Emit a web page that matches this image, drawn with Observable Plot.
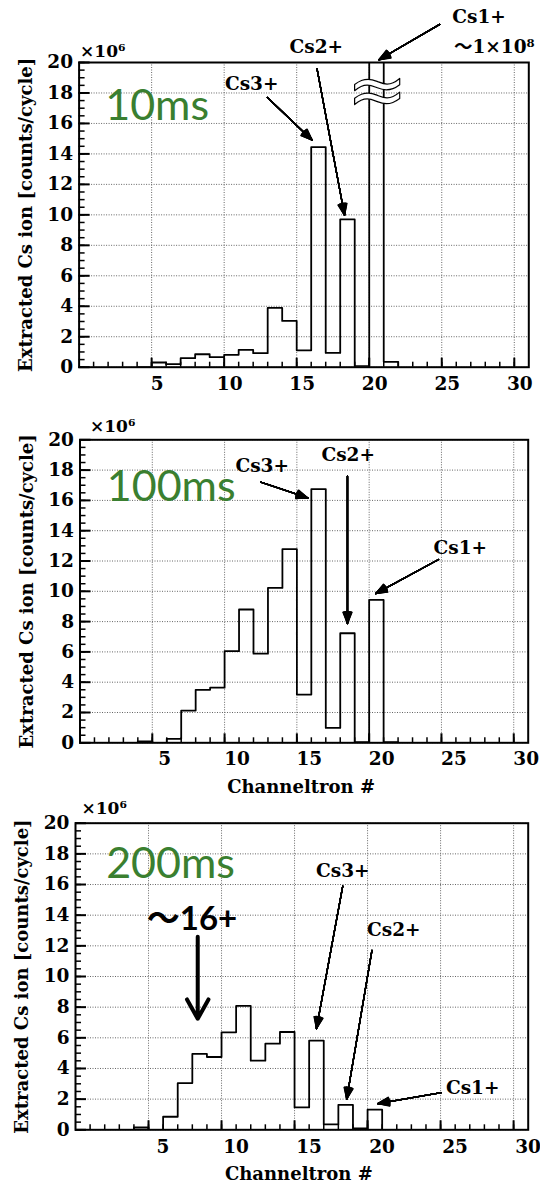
<!DOCTYPE html>
<html><head><meta charset="utf-8">
<script src="https://cdn.jsdelivr.net/npm/d3@7"></script>
<script src="https://cdn.jsdelivr.net/npm/@observablehq/plot@0.6"></script>
<style>
body{margin:0;background:#fff;width:540px;height:1185px;overflow:hidden}
svg{display:block}
</style>
</head><body><div id="c"></div>
<script>
// ---- data (values in units of 10^6 counts/cycle) ----
const binEdges = [4,5,6,7,8,9,10,11,12,13,14,15,16,17,18,19,20,21,22];
const counts10ms  = [0, 0.31, 0.20, 0.59, 0.85, 0.66, 0.81, 1.14, 0.92, 3.89, 3.04, 1.11, 14.45, 0.94, 9.70, 0.07, 100, 0.35];
const counts100ms = [0.10, 0, 0.26, 2.13, 3.50, 3.64, 6.05, 8.80, 5.88, 10.22, 12.78, 3.18, 16.75, 0.98, 7.23, 0.05, 9.43, 0.05];
const counts200ms = [0.15, 0, 0.85, 3.05, 4.95, 4.75, 6.36, 8.08, 4.51, 5.62, 6.38, 1.46, 5.82, 0.35, 1.63, 0.09, 1.31, 0];
const xTickLabels = [5,10,15,20,25,30];
const yTickLabels = [0,2,4,6,8,10,12,14,16,18,20];
const timeLabels = ["10ms","100ms","200ms"];

// annotations (data units)
const ionLabels10  = [{text:"Cs3+",x:11.9,y:18.6},{text:"Cs2+",x:16.35,y:21.0},{text:"Cs1+",x:27.57,y:22.95}];
const ionArrows10  = [{x1:12.98,y1:17.7,x2:16.07,y2:14.9},{x1:16.4,y1:19.6,x2:18.3,y2:9.97},{x1:24.86,y1:22.5,x2:20.67,y2:20.18}];
const ionLabels100 = [{text:"Cs3+",x:12.6,y:18.25},{text:"Cs2+",x:18.55,y:19.0},{text:"Cs1+",x:26.3,y:12.87}];
const ionArrows100 = [{x1:12.5,y1:17.2,x2:15.76,y2:16.16},{x1:18.5,y1:17.6,x2:18.5,y2:7.87},{x1:24.8,y1:12.1,x2:20.45,y2:9.85}];
const ionLabels200 = [{text:"Cs3+",x:18.3,y:16.9},{text:"Cs2+",x:21.8,y:13.0},{text:"Cs1+",x:27.2,y:2.75}];
const ionArrows200 = [{x1:18.3,y1:15.9,x2:16.5,y2:6.6},{x1:20.3,y1:11.7,x2:18.57,y2:2.0},{x1:25.05,y1:2.43,x2:20.7,y2:1.71}];
const timePos = [{x:1.8,y:16.2},{x:1.85,y:15.93},{x:2.1,y:16.44}];
const overflowNote = [{text:"～1×10⁸", x:25.84, y:21.0}];
const breakMark = [{x:20.55, y:18.1}];
const chargeNote = [{text:"～16+", x:4.88, y:13.06}];
const chargeArrow = [{x1:8.37, y1:12.6, x2:8.37, y2:7.24}];

const SERIF = "'DejaVu Serif','Liberation Serif','Noto Sans CJK JP',serif";
const xMinor = d3.range(1, 31, 1);
const yMinor = d3.range(0, 20.01, 0.5);

function steps(values) {
  const pts = [{x: binEdges[0], y: 0}];
  values.forEach((v, i) => { pts.push({x: binEdges[i], y: v}); pts.push({x: binEdges[i+1], y: v}); });
  pts.push({x: binEdges[binEdges.length-1], y: 0});
  return pts;
}

function filledArrows(data) {
  const marks = [Plot.link(data, {x1:"x1", y1:"y1", x2:"x2", y2:"y2", stroke:"black", strokeWidth:1.3})];
  for (const a of [4,8,12,16,20,24,28,32,36,40,44]) {
    marks.push(Plot.arrow(data, {x1:"x1", y1:"y1", x2:"x2", y2:"y2", stroke:"black", strokeWidth:1.3, headAngle:a, headLength:14}));
  }
  return marks;
}

function panel(cfg) {
  const marks = [
    Plot.gridY(yTickLabels, {stroke:"#666", strokeOpacity:1, strokeWidth:1, strokeDasharray:"1,1.5"}),
    Plot.gridX(xTickLabels, {stroke:"#666", strokeOpacity:1, strokeWidth:1, strokeDasharray:"1,1.5"}),
    Plot.axisY(yMinor, {tickSize:-6, fill:"none", strokeWidth:1.5, label:null}),
    Plot.axisY(yTickLabels, {tickSize:-11, fill:"none", strokeWidth:2, label:null}),
    Plot.axisX(xMinor, {tickSize:-5, fill:"none", strokeWidth:1.5, label:null}),
    Plot.axisX(xTickLabels, {tickSize:-9, fill:"none", strokeWidth:2, label:null}),
    Plot.text(yTickLabels, {y:d=>d, text:d=>String(d), frameAnchor:"left", dx:-6, textAnchor:"end", lineAnchor:"middle", fontSize:18.5, fontWeight:"bold", fontFamily:SERIF, fill:"black"}),
    Plot.text(xTickLabels, {x:d=>d, text:d=>String(d), frameAnchor:"bottom", dy:cfg.xPad, dx:cfg.xdx, textAnchor:"middle", lineAnchor:"top", fontSize:18.5, fontWeight:"bold", fontFamily:SERIF, fill:"black"}),
    Plot.line(steps(cfg.values), {x:"x", y:"y", stroke:"black", strokeWidth:1.8, clip:true}),
    Plot.frame({stroke:"black", strokeWidth:2}),
    Plot.text(["Extracted Cs ion [counts/cycle]"], {frameAnchor:"left", dx:-53, rotate:-90, fontSize:18, fontWeight:"bold", fontFamily:SERIF, textAnchor:"middle", lineAnchor:"middle", fill:"black"}),
    Plot.text(["×10⁶"], {frameAnchor:"top-left", dx:cfg.expDx, dy:-cfg.expDy, textAnchor:"start", lineAnchor:"bottom", fontSize:17, fontWeight:"bold", fontFamily:SERIF, fill:"black"}),
    Plot.text([cfg.time], {x:d=>cfg.timePos.x, y:d=>cfg.timePos.y, text:d=>d, textAnchor:"start", lineAnchor:"bottom", fontSize:43, fontFamily:"Lato, 'Open Sans', sans-serif", fill:"#3a7f30"}),
    Plot.text(cfg.labels, {x:"x", y:"y", text:"text", fontSize:18.5, fontWeight:"bold", fontFamily:SERIF, lineAnchor:"middle", fill:"black"}),
    ...filledArrows(cfg.arrows)
  ];
  if (cfg.xTitle) marks.push(Plot.text(["Channeltron #"], {frameAnchor:"bottom", dy:44, dx:-3, lineAnchor:"middle", fontSize:18, fontWeight:"bold", fontFamily:SERIF, fill:"black"}));
  if (cfg.extra) marks.push(...cfg.extra);
  return Plot.plot({
    width: 540, height: cfg.height,
    marginLeft: cfg.ml, marginRight: cfg.mr, marginTop: cfg.mt, marginBottom: cfg.mb,
    x: {domain:[0,31]}, y: {domain:[0,20]},
    style: {background:"white", overflow:"visible"},
    marks
  });
}

const c = document.getElementById("c");
c.appendChild(panel({
  values: counts10ms, height: 400, ml: 78.6, mr: 11.7, mt: 62, mb: 33.3,
  xPad: 10, xdx: 5.5, expDx: 1, expDy: 5.6, time: timeLabels[0], timePos: timePos[0],
  labels: ionLabels10, arrows: ionArrows10, xTitle: false,
  extra: [
    Plot.text(breakMark, {x:"x", y:"y", text:d=>"≈", fontSize:72, fontFamily:"'DejaVu Sans'", fill:"white", stroke:"black", strokeWidth:1.2, paintOrder:"normal", lineAnchor:"middle"}),
    Plot.text(overflowNote, {x:"x", y:"y", text:"text", textAnchor:"start", lineAnchor:"middle", fontSize:18.5, fontWeight:"bold", fontFamily:SERIF, fill:"black"})
  ]
}));
c.appendChild(panel({
  values: counts100ms, height: 398, ml: 79.5, mr: 12.3, mt: 39.3, mb: 55.7,
  xPad: 8.6, xdx: 12.5, expDx: 10, expDy: 7.6, time: timeLabels[1], timePos: timePos[1],
  labels: ionLabels100, arrows: ionArrows100, xTitle: true
}));
c.appendChild(panel({
  values: counts200ms, height: 387, ml: 75, mr: 12.3, mt: 24.7, mb: 55.7,
  xPad: 9.6, xdx: 14.5, expDx: 6, expDy: 9.4, time: timeLabels[2], timePos: timePos[2],
  labels: ionLabels200, arrows: ionArrows200, xTitle: true,
  extra: [
    Plot.text(chargeNote, {x:"x", y:"y", text:"text", textAnchor:"start", lineAnchor:"bottom", fontSize:33, fontWeight:"bold", fontFamily:"Lato, 'Noto Sans CJK JP', sans-serif", fill:"black"}),
    Plot.arrow(chargeArrow, {x1:"x1", y1:"y1", x2:"x2", y2:"y2", stroke:"black", strokeWidth:4, headAngle:58, headLength:8.3})
  ]
}));
</script>
</body></html>
